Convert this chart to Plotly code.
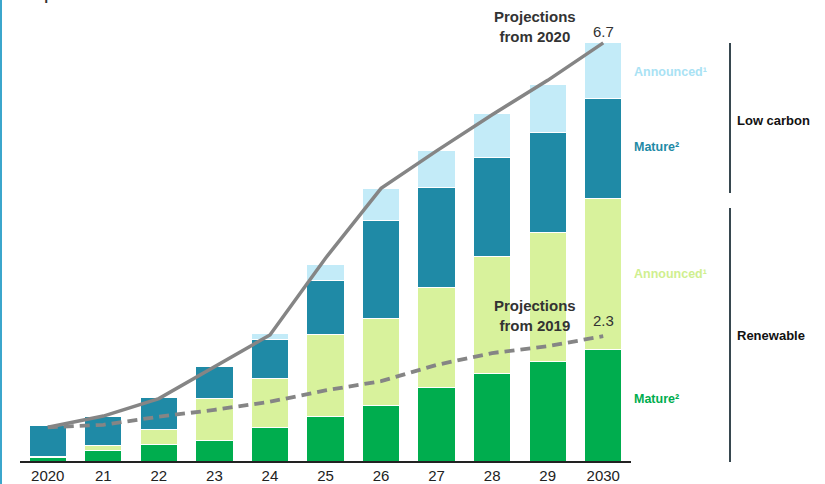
import plotly.graph_objects as go

years = ["2020", "21", "22", "23", "24", "25", "26", "27", "28", "29", "2030"]
renew_mature = [0.055, 0.165, 0.26, 0.33, 0.53, 0.72, 0.89, 1.17, 1.41, 1.59, 1.79]
renew_announced = [0.02, 0.08, 0.25, 0.67, 0.79, 1.30, 1.40, 1.61, 1.87, 2.07, 2.41]
lowc_mature = [0.49, 0.47, 0.50, 0.52, 0.63, 0.87, 1.57, 1.61, 1.58, 1.60, 1.61]
lowc_announced = [0.0, 0.0, 0.0, 0.0, 0.09, 0.26, 0.50, 0.58, 0.71, 0.78, 0.89]
proj_2020 = [0.54, 0.72, 1.00, 1.51, 2.02, 3.25, 4.37, 4.97, 5.55, 6.10, 6.70]
proj_2019 = [0.54, 0.58, 0.71, 0.82, 0.95, 1.13, 1.28, 1.54, 1.73, 1.84, 2.00]

C_GREEN = "#00ad4e"
C_LGREEN = "#d8f29c"
C_TEAL = "#1f8aa6"
C_LBLUE = "#c3ebf8"
FONT = "Arial, Liberation Sans, sans-serif"

# layout geometry (pixels)
W, H = 825, 484
ML, MR, MT, MB = 20, 194, 0, 23
PW = W - ML - MR
PH = H - MT - MB


def px(x):
    return (x - ML) / PW


def py(y):
    return (H - MB - y) / PH


fig = go.Figure()
for name, vals, col in [
    ("Renewable mature", renew_mature, C_GREEN),
    ("Renewable announced", renew_announced, C_LGREEN),
    ("Low carbon mature", lowc_mature, C_TEAL),
    ("Low carbon announced", lowc_announced, C_LBLUE),
]:
    fig.add_trace(go.Bar(x=years, y=vals, name=name, marker_color=col,
                         marker_line=dict(color="white", width=1)))

fig.add_trace(go.Scatter(x=years, y=proj_2020, mode="lines",
                         line=dict(color="#858585", width=3.5)))
fig.add_trace(go.Scatter(x=years, y=proj_2019, mode="lines",
                         line=dict(color="#858585", width=3.8, dash="10px,6px")))

ann = []


def add(text, x, y, size, color, bold=False, xanchor="center"):
    t = f"<b>{text}</b>" if bold else text
    ann.append(dict(text=t, x=px(x), y=py(y), xref="paper", yref="paper",
                    xanchor=xanchor, yanchor="middle", showarrow=False,
                    font=dict(family=FONT, size=size, color=color)))


add("Projections<br>from 2020", 535, 26, 15, "#333333", bold=True)
add("6.7", 603, 32, 15, "#333333")
add("Projections<br>from 2019", 535, 315, 15, "#333333", bold=True)
add("2.3", 603, 320, 15, "#333333")
add("Announced¹", 632, 72, 12.5, "#a9e2f4", bold=True, xanchor="left")
add("Mature²", 632, 147, 12.5, C_TEAL, bold=True, xanchor="left")
add("Announced¹", 632, 274, 12.5, "#cfef8f", bold=True, xanchor="left")
add("Mature²", 632, 399, 12.5, C_GREEN, bold=True, xanchor="left")
add("Low carbon", 735, 120, 13, "#111111", bold=True, xanchor="left")
add("Renewable", 735, 335, 13, "#111111", bold=True, xanchor="left")
ann.append(dict(text="<b>Mt p.a.</b>", x=px(22), y=py(5), xref="paper", yref="paper",
                xanchor="left", yanchor="bottom", showarrow=False,
                font=dict(family=FONT, size=14, color="#333333")))

shapes = [
    dict(type="line", xref="paper", yref="paper", x0=px(730), x1=px(730),
         y0=py(43), y1=py(193), line=dict(color="#37474f", width=2)),
    dict(type="line", xref="paper", yref="paper", x0=px(730), x1=px(730),
         y0=py(208), y1=py(462), line=dict(color="#37474f", width=2)),
    dict(type="line", xref="paper", yref="paper", x0=px(1), x1=px(1),
         y0=py(484), y1=py(0), line=dict(color="#3ba6cc", width=2)),
]

fig.update_layout(
    width=W, height=H,
    margin=dict(l=ML, r=MR, t=MT, b=MB),
    barmode="stack", bargap=0.33,
    showlegend=False,
    plot_bgcolor="white", paper_bgcolor="white",
    annotations=ann, shapes=shapes,
    font=dict(family=FONT),
    xaxis=dict(type="category", showgrid=False, showline=True, linecolor="#222222",
               linewidth=1.5, ticks="", tickfont=dict(size=15, color="#222222"),
               range=[-0.5, 10.5]),
    yaxis=dict(visible=False, range=[0, PH / 62.4], fixedrange=True),
)

fig.write_html("out.html")
